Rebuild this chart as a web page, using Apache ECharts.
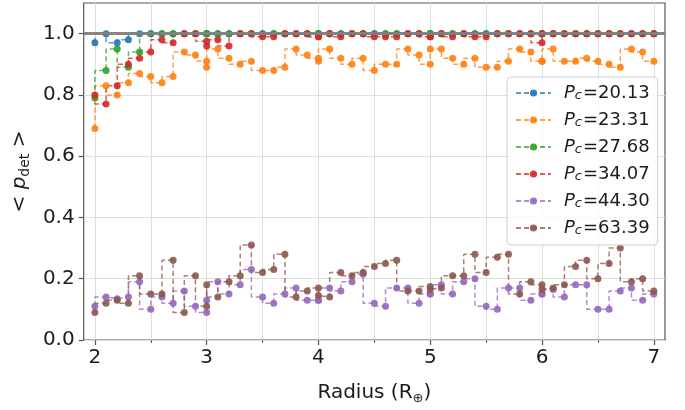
<!DOCTYPE html>
<html>
<head>
<meta charset="utf-8">
<script src="https://cdn.jsdelivr.net/npm/echarts@6/dist/echarts.min.js"></script>
<style>
  html, body { margin: 0; padding: 0; background: #ffffff; }
  #chart { width: 685px; height: 410px; }
</style>
</head>
<body>
<div id="chart"></div>
<script>
// Radius samples: five unit-wide bins, 11 samples each (bin edges repeat)
const radius = [
  2.0, 2.1, 2.2, 2.3, 2.4, 2.5, 2.6, 2.7, 2.8, 2.9, 3.0,
  3.0, 3.1, 3.2, 3.3, 3.4, 3.5, 3.6, 3.7, 3.8, 3.9, 4.0,
  4.0, 4.1, 4.2, 4.3, 4.4, 4.5, 4.6, 4.7, 4.8, 4.9, 5.0,
  5.0, 5.1, 5.2, 5.3, 5.4, 5.5, 5.6, 5.7, 5.8, 5.9, 6.0,
  6.0, 6.1, 6.2, 6.3, 6.4, 6.5, 6.6, 6.7, 6.8, 6.9, 7.0
];

// Orbital periods (days) of each curve
const periods = ['20.13', '23.31', '27.68', '34.07', '44.30', '63.39'];

// Mean detection probability per radius sample
const pdet2013 = [
  0.97, 1.00, 0.97, 0.98, 1.00, 1.00, 1.00, 1.00, 1.00, 1.00, 1.00,
  1.00, 1.00, 1.00, 1.00, 1.00, 1.00, 1.00, 1.00, 1.00, 1.00, 1.00,
  1.00, 1.00, 1.00, 1.00, 1.00, 1.00, 1.00, 1.00, 1.00, 1.00, 1.00,
  1.00, 1.00, 1.00, 1.00, 1.00, 1.00, 1.00, 1.00, 1.00, 1.00, 1.00,
  1.00, 1.00, 1.00, 1.00, 1.00, 1.00, 1.00, 1.00, 1.00, 1.00, 1.00
];
const pdet2331 = [
  0.69, 0.83, 0.80, 0.84, 0.87, 0.86, 0.84, 0.86, 0.94, 0.93, 0.91,
  0.89, 0.95, 0.92, 0.90, 0.91, 0.88, 0.88, 0.89, 0.95, 0.93, 0.92,
  0.91, 0.95, 0.92, 0.90, 0.92, 0.88, 0.90, 0.90, 0.95, 0.93, 0.90,
  0.95, 0.95, 0.92, 0.90, 0.92, 0.89, 0.89, 0.91, 0.95, 0.94, 0.91,
  0.91, 0.95, 0.91, 0.91, 0.92, 0.91, 0.90, 0.89, 0.95, 0.94, 0.91
];
const pdet2768 = [
  0.79, 0.88, 0.95, 0.89, 0.94, 1.00, 1.00, 1.00, 1.00, 1.00, 1.00,
  1.00, 1.00, 1.00, 1.00, 1.00, 1.00, 1.00, 1.00, 1.00, 1.00, 1.00,
  1.00, 1.00, 1.00, 1.00, 1.00, 1.00, 1.00, 1.00, 1.00, 1.00, 1.00,
  1.00, 1.00, 1.00, 1.00, 1.00, 1.00, 1.00, 1.00, 1.00, 1.00, 1.00,
  1.00, 1.00, 1.00, 1.00, 1.00, 1.00, 1.00, 1.00, 1.00, 1.00, 1.00
];
const pdet3407 = [
  0.80, 0.77, 0.83, 0.90, 0.92, 0.94, 0.98, 0.97, 1.00, 1.00, 0.975,
  0.96, 0.98, 0.96, 1.00, 1.00, 0.99, 0.99, 1.00, 1.00, 1.00, 0.99,
  0.99, 1.00, 0.99, 1.00, 1.00, 0.99, 0.99, 0.99, 1.00, 1.00, 0.99,
  0.99, 1.00, 0.99, 1.00, 0.99, 0.99, 1.00, 1.00, 1.00, 1.00, 0.97,
  1.00, 1.00, 1.00, 1.00, 1.00, 1.00, 1.00, 1.00, 1.00, 1.00, 1.00
];
const pdet4430 = [
  0.11, 0.14, 0.135, 0.14, 0.19, 0.10, 0.14, 0.12, 0.16, 0.11, 0.09,
  0.13, 0.19, 0.15, 0.18, 0.23, 0.14, 0.12, 0.15, 0.17, 0.13, 0.13,
  0.13, 0.17, 0.16, 0.19, 0.215, 0.12, 0.11, 0.17, 0.17, 0.12, 0.15,
  0.15, 0.18, 0.15, 0.19, 0.20, 0.11, 0.10, 0.17, 0.17, 0.13, 0.15,
  0.15, 0.165, 0.14, 0.18, 0.18, 0.10, 0.10, 0.16, 0.17, 0.13, 0.15
];
const pdet6339 = [
  0.09, 0.12, 0.13, 0.12, 0.21, 0.15, 0.15, 0.26, 0.09, 0.21, 0.11,
  0.18, 0.14, 0.19, 0.21, 0.31, 0.22, 0.23, 0.28, 0.14, 0.16, 0.17,
  0.145, 0.14, 0.22, 0.21, 0.22, 0.24, 0.25, 0.26, 0.16, 0.16, 0.175,
  0.165, 0.17, 0.21, 0.21, 0.28, 0.22, 0.27, 0.28, 0.15, 0.19, 0.18,
  0.165, 0.17, 0.18, 0.24, 0.26, 0.20, 0.25, 0.30, 0.19, 0.20, 0.16
];

// Axis ticks
const xTicks = [2, 3, 4, 5, 6, 7];
const xMinorTicks = [2.5, 3.5, 4.5, 5.5, 6.5];
const yTicks = [0, 0.2, 0.4, 0.6, 0.8, 1.0];
const fullDetection = 1.0;

const allValues = [pdet2013, pdet2331, pdet2768, pdet3407, pdet4430, pdet6339];
const colors = ['#1f77b4', '#ff7f0e', '#2ca02c', '#d62728', '#9467bd', '#8c564b'];
const FONT = 'DejaVu Sans';
const TEXT = '#1c1c1c';
const GRID = '#dedede';

const curveSeries = allValues.map((vals, s) => ({
  name: 'Pc=' + periods[s],
  type: 'line',
  step: 'start',
  data: radius.map((r, i) => [r, vals[i]]),
  symbol: 'circle',
  symbolSize: 7,
  showAllSymbol: true,
  z: 2,
  itemStyle: { color: colors[s], opacity: 0.9 },
  lineStyle: { color: colors[s], width: 1.5, type: [5, 3], opacity: 0.75 },
  emphasis: { disabled: true }
}));

// Vertical grid lines at the major and half-unit radii
const gridSeries = {
  name: 'xgrid',
  type: 'line',
  data: [],
  silent: true,
  markLine: {
    silent: true,
    z: 1,
    symbol: 'none',
    animation: false,
    label: { show: false },
    lineStyle: { color: GRID, width: 1, type: 'solid' },
    data: xTicks.concat(xMinorTicks).map(v => ({ xAxis: v }))
  }
};

// Reference line at full detection
const refSeries = {
  name: 'full',
  type: 'line',
  data: [],
  silent: true,
  markLine: {
    silent: true,
    z: 6,
    symbol: 'none',
    animation: false,
    label: { show: false },
    lineStyle: { color: '#7f7f7f', width: 3, type: 'solid', opacity: 0.95 },
    data: [{ yAxis: fullDetection }]
  }
};

const chart = echarts.init(document.getElementById('chart'), null, { renderer: 'canvas' });
chart.setOption({
  animation: false,
  backgroundColor: '#ffffff',
  textStyle: { fontFamily: FONT },
  grid: {
    left: 77, right: 20, top: 3, bottom: 63,
    show: true, borderColor: '#555555', borderWidth: 1.2,
    backgroundColor: 'transparent'
  },
  legend: {
    orient: 'vertical',
    left: 507,
    top: 77,
    padding: [7, 8, 8, 8],
    backgroundColor: 'rgba(255,255,255,0.8)',
    borderColor: '#cfcfcf',
    borderWidth: 1,
    borderRadius: 4,
    itemWidth: 35,
    itemHeight: 9,
    itemGap: 9,
    data: periods.map(p => 'Pc=' + p),
    formatter: name => '{i|P}{c|c}{t|' + name.slice(2) + '}',
    textStyle: {
      fontFamily: FONT,
      fontSize: 18,
      color: TEXT,
      padding: [0, 0, 0, 8],
      rich: {
        i: { fontFamily: FONT, fontStyle: 'italic', fontSize: 18, lineHeight: 18, color: TEXT },
        c: { fontFamily: FONT, fontStyle: 'italic', fontSize: 13, lineHeight: 11, verticalAlign: 'bottom', color: TEXT, padding: [0, 1, 0, 0] },
        t: { fontFamily: FONT, fontSize: 18, lineHeight: 18, color: TEXT }
      }
    }
  },
  xAxis: [{
    type: 'value',
    min: 1.9,
    max: 7.1,
    axisLine: { show: false },
    splitLine: { show: false },
    axisTick: { show: true, customValues: xTicks, length: 5, lineStyle: { color: '#555555', width: 1.2 } },
    axisLabel: {
      customValues: xTicks,
      fontFamily: FONT, fontSize: 20, color: TEXT, margin: 8,
      formatter: v => String(v)
    },
    name: 'Radius (R{s|⊕})',
    nameLocation: 'middle',
    nameGap: 41,
    nameTextStyle: {
      fontFamily: FONT, fontSize: 20, color: TEXT, lineHeight: 24,
      rich: { s: { fontFamily: FONT, fontSize: 13, lineHeight: 13, verticalAlign: 'bottom', color: TEXT } }
    }
  }, {
    type: 'value',
    position: 'bottom',
    min: 1.9,
    max: 7.1,
    axisLine: { show: false },
    splitLine: { show: false },
    axisLabel: { show: false },
    axisTick: { show: true, customValues: xMinorTicks, length: 3, lineStyle: { color: '#555555', width: 1 } }
  }],
  yAxis: {
    type: 'value',
    min: 0,
    max: 1.1,
    interval: 0.2,
    axisLine: { show: false },
    splitLine: { show: true, lineStyle: { color: GRID, width: 1 } },
    axisTick: { show: true, customValues: yTicks, length: 5, lineStyle: { color: '#555555', width: 1.2 } },
    axisLabel: {
      customValues: yTicks,
      fontFamily: FONT, fontSize: 20, color: TEXT, margin: 9,
      formatter: v => v.toFixed(1)
    },
    name: '< {p|p}{d|det} >',
    nameLocation: 'middle',
    nameRotate: 90,
    nameGap: 45,
    nameTextStyle: {
      fontFamily: FONT, fontSize: 20, color: TEXT, lineHeight: 24,
      rich: {
        p: { fontFamily: FONT, fontStyle: 'italic', fontSize: 20, lineHeight: 24, color: TEXT },
        d: { fontFamily: FONT, fontSize: 14, lineHeight: 14, verticalAlign: 'bottom', color: TEXT }
      }
    }
  },
  series: [gridSeries].concat(curveSeries, [refSeries])
});
</script>
</body>
</html>
